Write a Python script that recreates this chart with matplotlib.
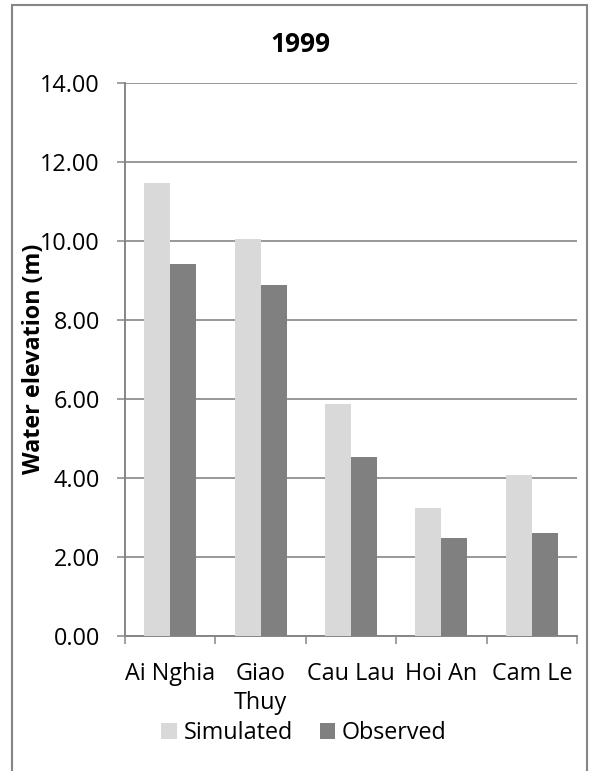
import numpy as np
import matplotlib
matplotlib.use("Agg")
import matplotlib.pyplot as plt
from matplotlib.patches import Rectangle
from matplotlib.ticker import FixedLocator, FormatStrFormatter

# Water elevation per station, 1999
stations = ["Ai Nghia", "Giao\nThuy", "Cau Lau", "Hoi An", "Cam Le"]
simulated = [11.47, 10.03, 5.86, 3.23, 4.08]
observed = [9.42, 8.87, 4.52, 2.48, 2.60]
series_names = ["Simulated", "Observed"]
y_ticks = [0, 2, 4, 6, 8, 10, 12, 14]

plt.rcParams["font.family"] = ["Open Sans", "DejaVu Sans"]

W, H, DPI = 590, 771, 100
fig = plt.figure(figsize=(W / DPI, H / DPI), dpi=DPI)
fig.patch.set_facecolor("white")

grey = "#868686"
light = "#d9d9d9"
dark = "#808080"
fs = 16.8

ax = fig.add_axes([125 / W, 1 - 636 / H, (577 - 125) / W, (636 - 82.5) / H])

x = np.arange(len(stations))
bw = 0.2876
ax.bar(x - bw / 2, simulated, width=bw, color=light, label=series_names[0], zorder=3)
ax.bar(x + bw / 2, observed, width=bw, color=dark, label=series_names[1], zorder=3)

ax.set_xlim(-0.5, len(stations) - 0.5)
ax.set_ylim(0, 14)

# y axis
ax.yaxis.set_major_locator(FixedLocator(y_ticks))
ax.yaxis.set_major_formatter(FormatStrFormatter("%.2f"))
ax.tick_params(axis="y", which="major", length=6, width=1.1, color=grey,
               pad=12, labelsize=fs, labelcolor="black")
ax.grid(axis="y", color=grey, linewidth=1.2, zorder=0)

# x axis: tick marks between categories, labels at centres
ax.xaxis.set_major_locator(FixedLocator(np.arange(-0.5, len(stations), 1.0)))
ax.xaxis.set_minor_locator(FixedLocator(x))
ax.set_xticklabels([""] * (len(stations) + 1))
ax.set_xticklabels(stations, minor=True)
ax.tick_params(axis="x", which="major", length=6, width=1.1, color=grey, direction="out")
ax.tick_params(axis="x", which="minor", length=0, pad=19, labelsize=fs, labelcolor="black")
for lbl in ax.get_xticklabels(minor=True):
    lbl.set_linespacing(1.28)
    lbl.set_verticalalignment("top")

for s in ["top", "right"]:
    ax.spines[s].set_visible(False)
for s in ["left", "bottom"]:
    ax.spines[s].set_color(grey)
    ax.spines[s].set_linewidth(1.4)
ax.set_axisbelow(True)

# title and axis label
fig.text(300 / W, 1 - 44.5 / H, "1999", ha="center", va="center",
         fontsize=19, fontweight="bold")
fig.text(34 / W, 1 - 359 / H, "Water elevation (m)", ha="center", va="center",
         rotation=90, fontsize=fs, fontweight="bold")

# legend
handles, labels = ax.get_legend_handles_labels()
fig.legend(handles, labels, loc="center", bbox_to_anchor=(304 / W, 1 - 733 / H),
           ncol=2, frameon=False, fontsize=fs, handlelength=0.65, handleheight=0.65,
           handletextpad=0.3, columnspacing=1.15, borderpad=0, borderaxespad=0)

# chart-area border (bottom edge runs past the canvas)
fig.patches.append(Rectangle((12 / W, -0.05), (587 - 12) / W, 1.05 - 5 / H,
                             transform=fig.transFigure, fill=False,
                             edgecolor=grey, linewidth=1.5))

fig.savefig("out.png", dpi=DPI, facecolor="white")
